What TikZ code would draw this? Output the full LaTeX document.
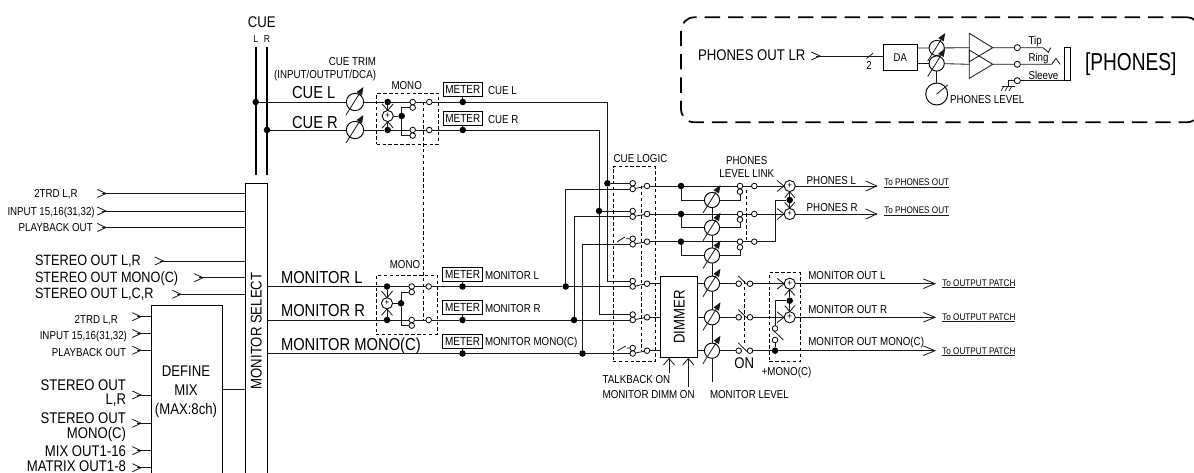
\documentclass[tikz,border=0pt]{standalone}
\usepackage{fontspec}
\setmainfont[FakeStretch=0.85]{Liberation Sans}
\newfontfamily\narrowfont[FakeStretch=0.78]{Liberation Sans}
\usetikzlibrary{arrows.meta,calc}
\tikzset{
  ln/.style={line width=.62pt,black!90},
  cuebus/.style={line width=1.6pt,black},
  lnk/.style={line width=.6pt,dash pattern=on 2.6pt off 1.8pt,black},
  dashbox/.style={draw,line width=.6pt,dash pattern=on 2.6pt off 1.8pt,inner sep=0,outer sep=0},
  dot/.style={circle,fill=black,inner sep=0,outer sep=0,minimum size=4.9pt},
  ct/.style={circle,draw,line width=.6pt,fill=white,inner sep=0,outer sep=0,minimum size=4.2pt},
  plusc/.style={circle,draw,line width=.65pt,fill=white,inner sep=0,outer sep=0,minimum size=8.4pt,font=\fontsize{7}{7}\selectfont},
  potc/.style={circle,draw,line width=.7pt,fill=white,inner sep=0,outer sep=0,minimum size=11.4pt},
  bx/.style={draw,line width=.7pt,inner sep=0,outer sep=0},
  meter/.style={bx,minimum width=29.5pt,minimum height=10.5pt,font=\fontsize{8.8}{9}\selectfont},
  xs/.style={inner sep=0,outer sep=0,font=\fontsize{7.6}{8}\selectfont,text height=5.5pt,text depth=0pt},
  sm/.style={inner sep=0,outer sep=0,font=\fontsize{8.6}{9}\selectfont,text height=6.2pt,text depth=0pt},
  md/.style={inner sep=0,outer sep=0,font=\fontsize{11.6}{12}\selectfont,text height=8.3pt,text depth=0pt},
  mdb/.style={inner sep=0,outer sep=0,font=\fontsize{11.2}{12}\selectfont,text height=8.1pt,text depth=0pt},
  lg/.style={inner sep=0,outer sep=0,font=\fontsize{13}{14}\selectfont,text height=9.4pt,text depth=0pt},
  xl/.style={inner sep=0,outer sep=0,font=\narrowfont\fontsize{18.4}{19}\selectfont,text height=13pt,text depth=0pt},
  tt/.style={inner sep=0,outer sep=0,font=\fontsize{7.2}{8}\selectfont,text height=5.2pt,text depth=0pt},
}
% chevrons: apex at (x,y)
\newcommand\chevL[4]{\draw[ln] (#1-#3,#2-#4) -- (#1,#2) -- (#1-#3,#2+#4);}
\newcommand\chevV[4]{\draw[ln] (#1-#4,#2+#3) -- (#1,#2) -- (#1+#4,#2+#3);}
\newcommand\inp[3]{\coordinate (#1) at (#2-4,#3); \chevL{#2}{#3}{8.7}{4}}
\newcommand\pot[3]{\node[potc,minimum size=13pt] (#1) at (#2,#3) {};}
\newcommand\potarrow[3]{\draw[ln,-{Triangle[length=6pt,width=4.6pt]}] (#1-9,#2+13) -- (#1+8.5,#2-15);}
\begin{document}
\begin{tikzpicture}[x=.75pt,y=-.75pt]
\useasboundingbox (0,0) rectangle (1194,473);
\clip (0,0) rectangle (1194,473);

%% ---------- boxes
\node[bx,minimum width=16.5pt,minimum height=230.25pt] (sel) at (256,336.5) {};
\node[md,rotate=90] (seltxt) at (256,331) {MONITOR SELECT};
\node[bx,minimum width=53.25pt,minimum height=138.75pt] (mix) at (186.5,397.5) {};
\node[md] (mixa) at (186,371) {DEFINE};
\node[md] (mixb) at (186,390) {MIX};
\node[md] (mixc) at (186,409) {(MAX:8ch)};
\node[bx,minimum width=27.2pt,minimum height=60.45pt] (dim) at (678.85,317) {};
\node[md,rotate=90] (dimtxt) at (679,317) {DIMMER};
\node[dashbox,minimum width=46.2pt,minimum height=38.25pt] (monoA) at (407.5,118.8) {};
\node[dashbox,minimum width=46.1pt,minimum height=43.9pt] (monoB) at (406.75,304.75) {};
\node[dashbox,minimum width=31.5pt,minimum height=146.25pt] (cuelog) at (634,264.2) {};
\node[dashbox,minimum width=23pt,minimum height=66.75pt] (monmix) at (784.65,317.2) {};
\node[draw,line width=1.3pt,dash pattern=on 11.5pt off 6pt,rounded corners=10pt,inner sep=0,minimum width=389.25pt,minimum height=78.75pt] (frame) at (940.5,69.8) {};

%% ---------- left labels
\node[sm,anchor=west] (l1) at (34.3,193) {2TRD L,R};
\node[sm,anchor=west] (l2) at (7.5,211) {INPUT 15,16(31,32)};
\node[sm,anchor=west] (l3) at (18.7,227) {PLAYBACK OUT};
\node[mdb,anchor=west] (l4) at (35,260) {STEREO OUT L,R};
\node[mdb,anchor=west] (l5) at (35,277) {STEREO OUT MONO(C)};
\node[mdb,anchor=west] (l6) at (35,293) {STEREO OUT L,C,R};
\node[sm,anchor=east] (l7) at (118,319) {2TRD L,R};
\node[sm,anchor=east] (l8) at (127,335) {INPUT 15,16(31,32)};
\node[sm,anchor=east] (l9) at (126,352.7) {PLAYBACK OUT};
\node[md,anchor=east] (l10) at (126,384.5) {STEREO OUT};
\node[md,anchor=east] (l10b) at (126,399.3) {L,R};
\node[md,anchor=east] (l11) at (126,417.7) {STEREO OUT};
\node[md,anchor=east] (l11b) at (126,432.7) {MONO(C)};
\node[md,anchor=east] (l12) at (126,450.7) {MIX OUT1-16};
\node[md,anchor=east] (l13) at (126,465.8) {MATRIX OUT1-8};

%% ---------- inputs
\inp{in1}{106}{193.5}\inp{in2}{106}{211}\inp{in3}{106}{227.5}
\inp{in4}{163.5}{261}\inp{in5}{203}{277.7}\inp{in6}{181}{294.3}
\inp{in7}{141}{316.7}\inp{in8}{141}{333.5}\inp{in9}{141}{350.3}
\inp{in10}{141}{395}\inp{in11}{141}{423.3}\inp{in12}{141}{450.7}\inp{in13}{141}{467.7}
\foreach \n in {in1,in2,in3,in4,in5,in6} \draw[ln] (\n) -- (sel.west |- \n);
\foreach \n in {in7,in8,in9,in10,in11,in12,in13} \draw[ln] (\n) -- (mix.west |- \n);
\coordinate (mixout) at (mix.east |- 0,389.3);
\draw[ln] (mixout) -- (sel.west |- mixout);

%% ---------- CUE bus
\node[md] (cuet) at (261.7,22.3) {CUE};
\node[xs] (cuel) at (255.7,39) {L};
\node[xs] (cuer) at (267,39) {R};
\coordinate (busLt) at (255.7,47); \coordinate (busLb) at (255.7,175);
\coordinate (busRt) at (267,47);  \coordinate (busRb) at (267,175);
\draw[cuebus] (busLt) -- (busLb);
\draw[cuebus] (busRt) -- (busRb);
\node[dot] (jcl) at (255.7,102) {};
\node[dot] (jcr) at (267,130) {};
\node[lg,anchor=west] (tcl) at (292,92) {CUE L};
\node[lg,anchor=west] (tcr) at (292,122) {CUE R};
\node[sm,anchor=east] (ttrim) at (376,61.7) {CUE TRIM};
\node[sm,anchor=east] (ttrim2) at (376,74) {(INPUT/OUTPUT/DCA)};
\node[sm] (tmonoA) at (406.7,85) {MONO};
\node[sm] (tmonoB) at (405,264.5) {MONO};
\pot{pcl}{355}{102}\pot{pcr}{355}{130}

%% ---------- MONO blocks
\node[dot] (dA1) at (387.7,102) {};
\node[dot] (dA2) at (387.7,130) {};
\node[plusc] (plA) at (387.7,116) {+};
\node[dot] (dA3) at (401.7,116) {};
\node[ct] (cA1) at (412.7,102) {};
\node[ct] (cA1b) at (412.7,107.6) {};
\node[ct] (cA2) at (412.7,130) {};
\node[ct] (cA2b) at (412.7,135.6) {};
\node[ct] (oA1) at (429.3,102) {};
\node[ct] (oA2) at (429.3,130) {};
\node[dot] (dB1) at (387,286.5) {};
\node[dot] (dB2) at (387,320) {};
\node[plusc] (plB) at (387,303.3) {+};
\node[dot] (dB3) at (401,303.3) {};
\node[ct] (cB1) at (411.7,286.5) {};
\node[ct] (cB1b) at (411.7,292.1) {};
\node[ct] (cB2) at (411.7,320) {};
\node[ct] (cB2b) at (411.7,325.6) {};
\node[ct] (oB1) at (428.7,286.5) {};
\node[ct] (oB2) at (428.7,320) {};

%% ---------- meters
\node[meter] (mtA1) at (462.8,89.7) {METER};
\node[meter] (mtA2) at (462.8,118) {METER};
\node[meter] (mtB1) at (462.5,274) {METER};
\node[meter] (mtB2) at (462.5,307.7) {METER};
\node[meter] (mtB3) at (462.5,341.3) {METER};
\node[dot] (mA1) at (462.8,102) {};
\node[dot] (mA2) at (462.8,130) {};
\node[dot] (mB1) at (462.5,286.5) {};
\node[dot] (mB2) at (462.5,320) {};
\node[dot] (mB3) at (462.5,353.5) {};
\foreach \a/\b in {mtA1/mA1,mtA2/mA2,mtB1/mB1,mtB2/mB2,mtB3/mB3} \draw[ln] (\a) -- (\b);
\node[sm,anchor=west] (tm1) at (488,90.5) {CUE L};
\node[sm,anchor=west] (tm2) at (488,119) {CUE R};
\node[sm,anchor=west] (tm3) at (485,275) {MONITOR L};
\node[sm,anchor=west] (tm4) at (485,308.5) {MONITOR R};
\node[sm,anchor=west] (tm5) at (485,341.5) {MONITOR MONO(C)};

%% ---------- monitor labels
\node[lg,anchor=west] (tml) at (281,277.7) {MONITOR L};
\node[lg,anchor=west] (tmr) at (281,310) {MONITOR R};
\node[lg,anchor=west] (tmm) at (281,344) {MONITOR MONO(C)};

%% ---------- junctions and CUE LOGIC contacts
\node[dot] (jb1) at (565.7,286.5) {};
\node[dot] (jb2) at (574,320) {};
\node[dot] (jb3) at (582.5,353.5) {};
\node[dot] (jt1) at (607.4,183.3) {};
\node[dot] (jt2) at (599,211) {};
\node[ct] (c1a) at (632.7,183.3) {}; \node[ct] (c1b) at (632.7,189) {}; \node[ct] (o1) at (647,186) {};
\node[ct] (c2a) at (632.7,211) {};   \node[ct] (c2b) at (632.7,216.7) {}; \node[ct] (o2) at (647,214) {};
\node[ct] (c3a) at (632.7,238.7) {}; \node[ct] (c3b) at (632.7,244.3) {}; \node[ct] (o3) at (647,241.7) {};
\node[ct] (c4a) at (632.7,281) {};   \node[ct] (c4b) at (632.7,286.5) {}; \node[ct] (o4) at (647,283.7) {};
\node[ct] (c5a) at (632.7,314.5) {}; \node[ct] (c5b) at (632.7,320) {};   \node[ct] (o5) at (647,317.3) {};
\node[ct] (c6a) at (632.7,348) {};   \node[ct] (c6b) at (632.7,353.5) {}; \node[ct] (o6) at (647,350.7) {};
\node[sm] (tcuelog) at (640.5,158) {CUE LOGIC};

%% ---------- connectors, CUE and monitor rows
\draw[ln] (jcl) -- (pcl) -- (dA1) -- (cA1);
\draw[ln] (jcr) -- (pcr) -- (dA2) -- (cA2);
\draw[ln] (cA1) -- (oA1);
\draw[ln] (cA2) -- (oA2);
\draw[ln] (dA1) -- (plA) -- (dA2);
\draw[ln] (plA) -- (dA3);
\draw[ln] (dA3) -- (dA3 |- cA1b) -- (cA1b);
\draw[ln] (dA3) -- (dA3 |- cA2b) -- (cA2b);
\chevV{387.7}{110.4}{-6.5}{5.5}\chevV{387.7}{121.6}{6.5}{5.5}
\potarrow{355}{102}{}\potarrow{355}{130}{}
\draw[ln] (oA1) -- (mA1) -- (jt1 |- mA1) -- (jt1) -- (jt1 |- c4a) -- (c4a);
\draw[ln] (oA2) -- (mA2) -- (jt2 |- mA2) -- (jt2) -- (jt2 |- c5a) -- (c5a);
\draw[ln] (jt1) -- (c1a);
\draw[ln] (jt2) -- (c2a);
\coordinate (msl) at (sel.east |- dB1);
\coordinate (msr) at (sel.east |- dB2);
\coordinate (msm) at (sel.east |- mB3);
\draw[ln] (msl) -- (dB1) -- (cB1) -- (oB1) -- (mB1) -- (jb1) -- (c4b);
\draw[ln] (msr) -- (dB2) -- (cB2) -- (oB2) -- (mB2) -- (jb2) -- (c5b);
\draw[ln] (msm) -- (mB3) -- (jb3) -- (c6b);
\draw[ln] (dB1) -- (plB) -- (dB2);
\draw[ln] (plB) -- (dB3);
\draw[ln] (dB3) -- (dB3 |- cB1b) -- (cB1b);
\draw[ln] (dB3) -- (dB3 |- cB2b) -- (cB2b);
\chevV{387}{297.7}{-6.5}{5.5}\chevV{387}{308.9}{6.5}{5.5}
\draw[ln] (jb1) -- (jb1 |- c1b) -- (c1b);
\draw[ln] (jb2) -- (jb2 |- c2b) -- (c2b);
\draw[ln] (jb3) -- (jb3 |- c3b) -- (c3b);
\foreach \a/\b in {c1b/o1,c2b/o2,c3b/o3,c4b/o4,c5b/o5,c6b/o6} \draw[ln] (\a) -- (\b);
% talkback stubs
\coordinate (st1a) at (617,242); \coordinate (st1b) at (625,237);
\coordinate (st2a) at (617.5,350.7); \coordinate (st2b) at (625.7,346);
\draw[ln] (st1a) -- (st1b) (st1b) ++(1,1.7) -- (c3a);
\draw[ln] (st2a) -- (st2b) (st2b) ++(1,2) -- (c6a);
% gang lines
\coordinate (lnkAt) at (423.3,102); \coordinate (lnkAb) at (423.3,320);
\draw[lnk] (lnkAt) -- (lnkAb);
\coordinate (lnkCt) at (641,186); \coordinate (lnkCb) at (641,350.7);
\draw[lnk] (lnkCt) -- (lnkCb);

%% ---------- PHONES level part
\node[dot] (d1) at (681,186) {};
\node[dot] (d2) at (681,214) {};
\node[dot] (d3) at (681,241.7) {};
\node[potc] (p1) at (712,200) {};
\node[potc] (p2) at (712,227.7) {};
\node[potc] (p3) at (712,255.5) {};
\node[potc] (p4) at (712,283.7) {};
\node[potc] (p5) at (712,317.3) {};
\node[potc] (p6) at (712,350.7) {};
\coordinate (lvl) at (712,382);
\draw[ln] (p1) -- (p2) -- (p3) -- (p4) -- (p5) -- (p6) -- (lvl);
\node[ct] (u1) at (740,186) {};   \node[ct] (v1) at (740,191.7) {}; \node[ct] (w1) at (754.3,186) {};
\node[ct] (u2) at (740,214) {};   \node[ct] (v2) at (740,219.6) {}; \node[ct] (w2) at (754.3,214) {};
\node[ct] (u3) at (740,241.7) {}; \node[ct] (v3) at (740,247.3) {}; \node[ct] (w3) at (754.3,241.7) {};
\foreach \i in {1,2,3} {
  \draw[ln] (o\i) -- (d\i) -- (u\i) -- (w\i);
  \draw[ln] (d\i) -- (d\i |- p\i) -- (p\i) -- (v\i |- p\i) -- (v\i);
}
\potarrow{712}{200}{}\potarrow{712}{227.7}{}\potarrow{712}{255.5}{}
\potarrow{712}{283.7}{}\potarrow{712}{317.3}{}\potarrow{712}{350.7}{}
\coordinate (lnkPt) at (746.7,190); \coordinate (lnkPb) at (746.7,241.7);
\draw[lnk] (lnkPt) -- (lnkPb);
\node[sm] (tpl1) at (746.7,160) {PHONES};
\node[sm] (tpl2) at (746.7,173.3) {LEVEL LINK};
\node[plusc] (pP1) at (789.7,186) {+};
\node[plusc] (pP2) at (789.7,214) {+};
\node[dot] (dP) at (789.7,200) {};
\coordinate (tP1) at (876.7,186); \coordinate (tP2) at (876.7,214);
\coordinate (bP) at (775,200);
\draw[ln] (w1) -- (pP1) -- (tP1);
\draw[ln] (w2) -- (pP2) -- (tP2);
\draw[ln] (pP1) -- (dP) -- (pP2);
\draw[ln] (dP) -- (bP) -- (bP |- w3) -- (w3);
\chevL{784}{186}{7}{5.5}\chevL{784}{214}{7}{5.5}
\chevV{789.7}{191.7}{6}{5}\chevV{789.7}{208.3}{-6}{5}
\chevL{876.7}{186}{11}{5}\chevL{876.7}{214}{11}{5}
\node[sm,anchor=west] (tpL) at (806.7,180.7) {PHONES L};
\node[sm,anchor=west] (tpR) at (806.7,207.7) {PHONES R};
\node[tt,anchor=west] (tpo1) at (884.3,182.3) {To PHONES OUT};
\node[tt,anchor=west] (tpo2) at (884.3,210.3) {To PHONES OUT};
\draw[ln,line width=.6pt] (tpo1.west |- 0,187.3) -- (tpo1.east |- 0,187.3);
\draw[ln,line width=.6pt] (tpo2.west |- 0,215.3) -- (tpo2.east |- 0,215.3);

%% ---------- monitor level and outs
\foreach \i in {4,5,6} \draw[ln] (o\i) -- (dim.west |- o\i);
\foreach \i in {4,5,6} \draw[ln] (dim.east |- p\i) -- (p\i);
\node[ct] (s1) at (738.7,283.7) {}; \node[ct] (s1b) at (750,283.7) {};
\node[ct] (s2) at (738.7,317.3) {}; \node[ct] (s2b) at (750,317.3) {};
\node[ct] (s3) at (738.7,350.7) {}; \node[ct] (s3b) at (750,350.7) {};
\draw[ln] (p4) -- (s1);
\draw[ln] (p5) -- (s2);
\draw[ln] (p6) -- (s3);
\draw[ln] (738.3,276) -- (746.8,284.3);
\draw[ln] (738.3,309.6) -- (746.8,317.9);
\draw[ln] (738.3,343) -- (746.8,351.3);
\coordinate (lnkOt) at (744.3,281); \coordinate (lnkOb) at (744.3,345);
\draw[lnk] (lnkOt) -- (lnkOb);
\node[md] (ton) at (744.3,363) {ON};
\node[plusc] (pL1) at (789.7,283.7) {+};
\node[plusc] (pL2) at (789.7,317.3) {+};
\node[dot] (dL) at (789.7,300.7) {};
\node[ct] (cM1) at (775,328.5) {};
\node[ct] (cM2) at (775,340) {};
\node[dot] (dM) at (775,350.7) {};
\coordinate (bL) at (775,300.7);
\coordinate (t1) at (935,283.7); \coordinate (t2) at (935,317.3); \coordinate (t3) at (935,350.7);
\draw[ln] (s1b) -- (pL1) -- (t1);
\draw[ln] (s2b) -- (pL2) -- (t2);
\draw[ln] (s3b) -- (dM) -- (t3);
\draw[ln] (pL1) -- (dL) -- (pL2);
\draw[ln] (dL) -- (bL) -- (cM1);
\draw[ln] (cM2) -- (dM);
\draw[ln] (773,330) -- (783.3,340);
\chevL{784}{283.7}{7}{5.5}\chevL{784}{317.3}{7}{5.5}
\chevV{789.7}{289.4}{6}{5}\chevV{789.7}{311.6}{-6}{5}
\chevL{935}{283.7}{11.7}{4.8}\chevL{935}{317.3}{11.7}{4.8}\chevL{935}{350.7}{11.7}{4.8}
\node[sm] (tmono) at (786.5,371.7) {+MONO(C)};
\node[sm,anchor=west] (tol) at (808.3,275.7) {MONITOR OUT L};
\node[sm,anchor=west] (tor) at (808.3,309.3) {MONITOR OUT R};
\node[sm,anchor=west] (tom) at (808.3,341.7) {MONITOR OUT MONO(C)};
\node[tt,anchor=west] (tp1) at (942.3,283.3) {To OUTPUT PATCH};
\node[tt,anchor=west] (tp2) at (942.3,317) {To OUTPUT PATCH};
\node[tt,anchor=west] (tp3) at (942.3,350.7) {To OUTPUT PATCH};
\draw[ln,line width=.6pt] (tp1.west |- 0,287.8) -- (tp1.east |- 0,287.8);
\draw[ln,line width=.6pt] (tp2.west |- 0,321.7) -- (tp2.east |- 0,321.7);
\draw[ln,line width=.6pt] (tp3.west |- 0,355.2) -- (tp3.east |- 0,355.2);

%% ---------- bottom controls
\node[sm,anchor=west] (ttb) at (602.7,379.3) {TALKBACK ON};
\node[sm,anchor=west] (tdm) at (602.7,394.7) {MONITOR DIMM ON};
\node[sm,anchor=west] (tlv) at (710,394.7) {MONITOR LEVEL};
\coordinate (atb) at (669,373); \coordinate (adm) at (688.3,386.7);
\draw[ln] (atb) -- (atb |- dim.south);
\draw[ln] (adm) -- (adm |- dim.south);
\chevV{669}{358.5}{6.5}{5.5}\chevV{688.3}{358.5}{6.5}{5.5}

%% ---------- phones out box
\node[md,anchor=west] (tpol) at (698,55) {PHONES OUT LR};
\inp{pin}{820}{56}
\node[bx,minimum width=25.5pt,minimum height=19.3pt,font=\fontsize{8.4}{9}\selectfont] (da) at (900.3,57.2) {DA};
\draw[ln] (pin) -- (da.west |- pin);
\draw[ln] (866.5,58.5) -- (873,53.3);
\node[sm] (t2) at (869,65.7) {2};
\node[potc] (q1) at (936.7,48) {};
\node[potc] (q2) at (936.7,63.5) {};
\node[circle,draw,line width=.7pt,inner sep=0,minimum size=16.5pt] (knob) at (936.7,94) {};
\coordinate (knobc) at (936.7,94); \coordinate (knobp) at (947.7,85);
\draw[ln] (knobc) -- (knobp);
\draw[ln] (q2) -- (knob);
\potarrow{936.7}{48}{}\potarrow{936.7}{63.5}{}
\node[sm,anchor=west] (tpl) at (950,99.3) {PHONES LEVEL};
\coordinate (a1w) at (969.3,47.7); \coordinate (a2w) at (969.3,64.3);
\coordinate (a1e) at (992.7,47.7); \coordinate (a2e) at (992.7,64.3);
\draw[ln] (969.3,33.3) -- (a1e) -- (969.3,61.7) -- cycle;
\draw[ln] (969.3,50) -- (a2e) -- (969.3,78.3) -- cycle;
\draw[ln] (da.east |- q1) -- (q1) -- (a1w);
\draw[ln] (da.east |- q2) -- (q2) -- (a2w);
\node[ct,minimum size=4.6pt] (tipc) at (1017.3,47.7) {};
\node[ct,minimum size=4.6pt] (ringc) at (1017.3,64.3) {};
\node[ct,minimum size=4.6pt] (slvc) at (1017.3,80.7) {};
\draw[ln] (a1e) -- (tipc) -- (1043,47.7) -- (1048.3,52.3) -- (1050.7,47.7);
\draw[ln] (a2e) -- (ringc) -- (1051.7,64.3) -- (1056,58.3) -- (1060,64.3);
\node[bx,minimum width=4.3pt,minimum height=25pt] (jack) at (1067.15,64) {};
\draw[ln] (slvc) -- (jack.south west |- slvc);
\coordinate (g1) at (1008.3,80.7); \coordinate (g2) at (1008.3,86);
\draw[ln] (slvc) -- (g1) -- (g2);
\draw[ln] (1002,86) -- (1015,86);
\draw[ln,line width=.5pt] (1004,86) -- (1001,91) (1008,86) -- (1005,91) (1012,86) -- (1009,91);
\node[sm,anchor=west] (ttip) at (1028.5,40.7) {Tip};
\node[sm,anchor=west] (tring) at (1028.5,57.3) {Ring};
\node[sm,anchor=west] (tslv) at (1028.5,75) {Sleeve};
\node[xl,anchor=west] (tph) at (1085,62) {[PHONES]};
\end{tikzpicture}
\end{document}
